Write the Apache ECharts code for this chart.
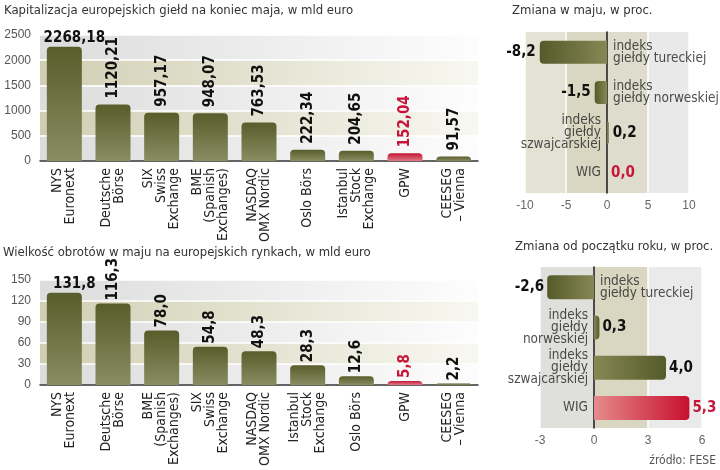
<!DOCTYPE html>
<html><head><meta charset="utf-8">
<script src="https://cdn.jsdelivr.net/npm/echarts@6/dist/echarts.min.js"></script>
<style>html,body{margin:0;padding:0;background:#fff}#c{width:720px;height:470px}</style>
</head><body><div id="c"></div>
<script>
// ---- data ----
const capTitle = 'Kapitalizacja europejskich giełd na koniec maja, w mld euro';
const capCategories = ['NYS\nEuronext','Deutsche\nBörse','SIX\nSwiss\nExchange','BME\n(Spanish\nExchanges)','NASDAQ\nOMX Nordic','Oslo Börs','Istanbul\nStock\nExchange','GPW','CEESEG\n– Vienna'];
const capValues = [2268.18,1120.21,957.17,948.07,763.53,222.34,204.65,152.04,91.57];
const capAxis = {min:0, max:2500, interval:500};

const turnTitle = 'Wielkość obrotów w maju na europejskich rynkach, w mld euro';
const turnCategories = ['NYS\nEuronext','Deutsche\nBörse','BME\n(Spanish\nExchanges)','SIX\nSwiss\nExchange','NASDAQ\nOMX Nordic','Istanbul\nStock\nExchange','Oslo Börs','GPW','CEESEG\n– Vienna'];
const turnValues = [131.8,116.3,78.0,54.8,48.3,28.3,12.6,5.8,2.2];
const turnAxis = {min:0, max:150, interval:30};

const mayTitle = 'Zmiana w maju, w proc.';
const mayCategories = ['indeks\ngiełdy tureckiej','indeks\ngiełdy norweskiej','indeks\ngiełdy\nszwajcarskiej','WIG'];
const mayValues = [-8.2,-1.5,0.2,0.0];
const mayAxis = {min:-10, max:10, interval:5};

const ytdTitle = 'Zmiana od początku roku, w proc.';
const ytdCategories = ['indeks\ngiełdy tureckiej','indeks\ngiełdy\nnorweskiej','indeks\ngiełdy\nszwajcarskiej','WIG'];
const ytdValues = [-2.6,0.3,4.0,5.3];
const ytdAxis = {min:-3, max:6, interval:3};

const highlight = ['GPW','WIG'];
const sourceText = 'źródło: FESE';

// ---- style ----
const FONT = "'DejaVu Sans Condensed','Liberation Sans',sans-serif";
const RED = '#c8163a';
const fmt = (v, d) => v.toFixed(d).replace('.', ',');
const hgrad = (a, b) => ({type:'linear', x:0, y:0, x2:1, y2:0, colorStops:[{offset:0,color:a},{offset:1,color:b}]});
const vgrad = (a, b) => ({type:'linear', x:0, y:0, x2:0, y2:1, colorStops:[{offset:0,color:a},{offset:1,color:b}]});
const olive = vgrad('#585d2b', '#8a8c62');
const redV = vgrad('#c41633', '#e07a86');

function vBarData(cats, vals) {
  return vals.map((v, i) => {
    const red = highlight.includes(cats[i]);
    const item = {value: v, itemStyle: {color: red ? redV : olive}, label: {color: red ? RED : '#111'}};
    if (i === 0) Object.assign(item.label, {rotate: 0, align: 'center', verticalAlign: 'bottom', distance: 1, offset: [10, 0]});
    return item;
  });
}
function hBarData(cats, vals) {
  return vals.map((v, i) => {
    const red = highlight.includes(cats[i]);
    const dark = red ? '#c8102e' : '#555a2a';
    const light = red ? '#e58a8a' : '#868854';
    return {
      value: v,
      itemStyle: {color: v < 0 ? hgrad(dark, light) : hgrad(light, dark), borderRadius: v < 0 ? [4,0,0,4] : [0,4,4,0]},
      label: {position: v < 0 ? 'left' : 'right', color: red ? RED : '#111'}
    };
  });
}
function catLabelData(cats, vals) {
  return cats.map((c, i) => ({value: [0, i], label: {position: vals[i] < 0 ? 'right' : 'left'}}));
}

const bandGrey = hgrad('#dcdcdc', '#fdfdfd');
const bandOlive = hgrad('#d0ceb2', '#f8f8f2');

function leftX(idx, cats) {
  return {gridIndex: idx, type: 'category', data: cats,
    axisLine: {lineStyle: {color: '#333', width: 1.5}}, axisTick: {show: false},
    axisLabel: {rotate: 90, interval: 0, fontFamily: FONT, fontSize: 14, color: '#222', lineHeight: 13, margin: 7}};
}
function leftY(idx, ax) {
  return {gridIndex: idx, type: 'value', min: ax.min, max: ax.max, interval: ax.interval,
    axisLine: {show: false}, axisTick: {show: false},
    axisLabel: {fontFamily: "'Liberation Sans',sans-serif", fontSize: 12, color: '#555', margin: 9, formatter: v => String(v)},
    splitLine: {lineStyle: {color: '#fff', width: 1.5}},
    splitArea: {show: true, areaStyle: {color: [bandGrey, bandOlive]}}};
}
function rightX(idx, ax, bands) {
  return {gridIndex: idx, type: 'value', min: ax.min, max: ax.max, interval: ax.interval,
    axisLine: {show: false}, axisTick: {show: false},
    axisLabel: {fontFamily: "'Liberation Sans',sans-serif", fontSize: 12, color: '#666', margin: 7},
    splitLine: {lineStyle: {color: '#fff', width: 1.5}},
    splitArea: {show: true, areaStyle: {color: bands}}};
}
function rightY(idx, cats) {
  return {gridIndex: idx, type: 'category', data: cats, inverse: true,
    axisLine: {onZero: true, lineStyle: {color: '#111', width: 1.5}}, axisTick: {show: false},
    axisLabel: {show: false}, splitLine: {show: false}};
}

const chart = echarts.init(document.getElementById('c'), null, {renderer: 'canvas'});
const titleStyle = {fontFamily: FONT, fontSize: 13, fontWeight: 'normal', color: '#333'};
const valLabel = {fontFamily: FONT, fontWeight: 'bold', fontSize: 15};
chart.setOption({
  animation: false,
  backgroundColor: '#fff',
  title: [
    {text: capTitle, left: 4, top: 4, padding: 0, textStyle: titleStyle},
    {text: turnTitle, left: 3, top: 246, padding: 0, textStyle: titleStyle},
    {text: mayTitle, left: 512, top: 4, padding: 0, textStyle: titleStyle},
    {text: ytdTitle, left: 515, top: 240, padding: 0, textStyle: titleStyle},
    {text: sourceText, right: 4, top: 455, padding: 0, textStyle: {fontFamily: FONT, fontSize: 12, fontWeight: 'normal', color: '#555'}}
  ],
  grid: [
    {left: 40, right: 242, top: 35, bottom: 309},
    {left: 40, right: 242, top: 280, bottom: 85},
    {left: 525, right: 31, top: 32, bottom: 277},
    {left: 540, right: 18, top: 267, bottom: 42}
  ],
  xAxis: [
    leftX(0, capCategories),
    leftX(1, turnCategories),
    rightX(2, mayAxis, ['#e3e2d5', '#d9d7c2', '#dedccc', '#e9e9e9']),
    rightX(3, ytdAxis, ['#dfdfdc', '#d9d7c1', '#eaeaea'])
  ],
  yAxis: [
    leftY(0, capAxis),
    leftY(1, turnAxis),
    rightY(2, mayCategories),
    rightY(3, ytdCategories)
  ],
  series: [
    {type: 'bar', xAxisIndex: 0, yAxisIndex: 0, barWidth: 35, data: vBarData(capCategories, capValues),
     itemStyle: {borderRadius: [4,4,0,0]},
     label: Object.assign({show: true, position: 'top', rotate: 90, align: 'left', verticalAlign: 'middle', distance: 6,
       formatter: p => fmt(p.value, 2)}, valLabel)},
    {type: 'bar', xAxisIndex: 1, yAxisIndex: 1, barWidth: 35, data: vBarData(turnCategories, turnValues),
     itemStyle: {borderRadius: [4,4,0,0]},
     label: Object.assign({show: true, position: 'top', rotate: 90, align: 'left', verticalAlign: 'middle', distance: 3,
       formatter: p => fmt(p.value, 1)}, valLabel)},
    {type: 'bar', xAxisIndex: 2, yAxisIndex: 2, barWidth: 23, data: hBarData(mayCategories, mayValues),
     label: Object.assign({show: true, distance: 4, formatter: p => fmt(p.value, 1)}, valLabel)},
    {type: 'bar', xAxisIndex: 3, yAxisIndex: 3, barWidth: 24, data: hBarData(ytdCategories, ytdValues),
     label: Object.assign({show: true, distance: 3, formatter: p => fmt(p.value, 1)}, valLabel)},
    {type: 'scatter', xAxisIndex: 2, yAxisIndex: 2, symbolSize: 0, silent: true, z: 5,
     data: catLabelData(mayCategories, mayValues),
     label: {show: true, distance: 6, fontFamily: FONT, fontSize: 13.5, color: '#222', lineHeight: 12,
       formatter: p => mayCategories[p.dataIndex]}},
    {type: 'scatter', xAxisIndex: 3, yAxisIndex: 3, symbolSize: 0, silent: true, z: 5,
     data: catLabelData(ytdCategories, ytdValues),
     label: {show: true, distance: 6, fontFamily: FONT, fontSize: 13.5, color: '#222', lineHeight: 12,
       formatter: p => ytdCategories[p.dataIndex]}}
  ]
});
</script></body></html>
